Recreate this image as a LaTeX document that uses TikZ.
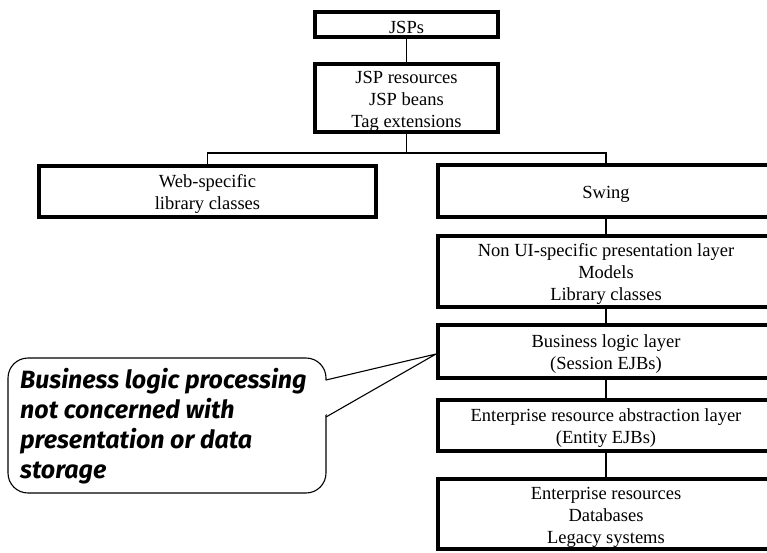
\documentclass[tikz,border=0pt]{standalone}
\usepackage{fontspec}
\setmainfont{Liberation Serif}
\newfontfamily\calloutfont{Fira Sans}
% invisible strut that lowers a layer's text block a little
\newcommand\padtop{\rule{0pt}{18.5pt}}
\begin{document}
\begin{tikzpicture}[x=1pt,y=-1pt,
  layer/.style={draw,line width=4pt,inner sep=0pt,align=center,
    font=\fontsize{18.5}{22}\selectfont},
  link/.style={line width=1.4pt},
  callout/.style={line width=1.1pt,line join=miter}]
\useasboundingbox (0,0) rectangle (767,552);
\clip (0,0) rectangle (767,552);

% top column
\node[layer,minimum width=183pt,minimum height=25pt] (jsp) at (406.5,24.5) {\padtop JSPs};
\node[layer,minimum width=183pt,minimum height=68pt] (jspres) at (406.5,98)
  {\padtop JSP resources\\JSP beans\\Tag extensions};

% split into web and swing branches
\node[layer,minimum width=337pt,minimum height=51pt] (web) at (207.5,191.5)
  {\padtop Web-specific\\library classes};
\node[layer,minimum width=336pt,minimum height=52pt] (swing) at (606,191) {\padtop Swing};

% right column layers
\node[layer,minimum width=336pt,minimum height=71pt] (nonui) at (606,271.5)
  {\padtop Non UI-specific presentation layer\\Models\\Library classes};
\node[layer,minimum width=336pt,minimum height=53pt] (biz) at (606,351.5)
  {\padtop Business logic layer\\(Session EJBs)};
\node[layer,minimum width=336pt,minimum height=51pt] (entity) at (606,425.5)
  {\padtop Enterprise resource abstraction layer\\(Entity EJBs)};
\node[layer,minimum width=336pt,minimum height=70pt] (res) at (606,514)
  {\padtop Enterprise resources\\Databases\\Legacy systems};

% connectors
\coordinate (fork) at (jspres.south |- 0,153);
\draw[link] (jsp) -- (jspres);
\draw[link] (jspres) -- (fork);
\draw[link] (web.north) |- (fork) -| (swing.north);
\draw[link] (swing) -- (nonui);
\draw[link] (nonui) -- (biz);
\draw[link] (biz) -- (entity);
\draw[link] (entity) -- (res);

% callout pointing at the business logic layer
\coordinate (tip) at (biz.west |- 0,354);
\draw[callout,rounded corners=20pt] (8,358) rectangle (326,493);
\fill[white] (323,381) -- (tip) -- (323,416) -- cycle;
\draw[callout] (326,380) -- (tip) -- (326,417);
\node[anchor=base west,align=left,inner sep=0pt,
  font=\calloutfont\bfseries\itshape\fontsize{25}{30}\selectfont] (note) at (20,478)
  {Business logic processing\\not concerned with\\presentation or data\\storage};
\end{tikzpicture}
\end{document}
